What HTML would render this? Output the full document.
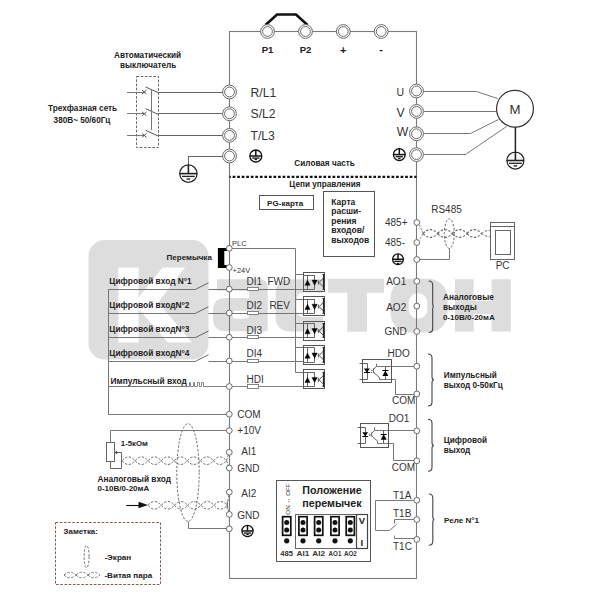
<!DOCTYPE html>
<html><head><meta charset="utf-8"><style>
html,body{margin:0;padding:0;background:#fff;}
svg{display:block;font-family:"Liberation Sans",sans-serif;}
</style></head><body>
<svg width="600" height="600" viewBox="0 0 600 600">
<rect width="600" height="600" fill="#fff"/>
<g fill="#dddddd">
<rect x="88.5" y="240" width="120" height="119.5" rx="16" ry="16"/>
</g>
<g fill="#fff">
<path d="M118.3,267.5 H138.6 V297.5 L162.5,267.5 H185 L158,302.5 L192,342.5 H168 L138.6,309 V342.5 H118.3 Z"/>
</g>
<g fill="#dddddd">
<path d="M217,279.3 H259.7 Q267.7,279.3 267.7,287.3 V331.3 H226 Q213,331.3 213,318.3 V311 Q213,298 226,298 H249 V290.7 H217 Z"/>
<path d="M291,279.3 H323 V292.4 H304.5 Q296.5,292.4 296.5,300.4 V309 Q296.5,317 304.5,317 H323 V331.5 H291 Q275.5,331.5 275.5,316 V294.8 Q275.5,279.3 291,279.3 Z"/>
<path d="M328,278.7 H384 V292.7 H367 V331.8 H347.3 V292.7 H328 Z"/>
<rect x="390.5" y="278.7" width="57" height="53.8" rx="19" ry="19"/>
<path d="M455,279.2 H473.7 V301 H491.6 V279.2 H510.8 V331.6 H491.6 V314 H473.7 V331.6 H455 Z"/>
</g>
<g fill="#fff">
<rect x="232.3" y="310.7" width="16.7" height="7.8" rx="3.5" ry="3.5"/>
<rect x="408.7" y="293.3" width="18.6" height="25.4" rx="9" ry="9"/>
</g>
<rect x="229.5" y="31.5" width="187.0" height="547.0" stroke="#7a7a7a" stroke-width="1.1" fill="none" />
<path d="M265.5,25 L277,14.5 L296,14.5 L307.5,25" stroke="#111" stroke-width="2.6" fill="none" />
<circle cx="267.5" cy="31.5" r="6.9" stroke="#6a6a6a" stroke-width="1.0" fill="#fff" />
<circle cx="267.5" cy="31.5" r="4.9" stroke="#6a6a6a" stroke-width="1.0" fill="none" />
<circle cx="305.5" cy="31.5" r="6.9" stroke="#6a6a6a" stroke-width="1.0" fill="#fff" />
<circle cx="305.5" cy="31.5" r="4.9" stroke="#6a6a6a" stroke-width="1.0" fill="none" />
<circle cx="343.3" cy="31.5" r="6.9" stroke="#6a6a6a" stroke-width="1.0" fill="#fff" />
<circle cx="343.3" cy="31.5" r="4.9" stroke="#6a6a6a" stroke-width="1.0" fill="none" />
<circle cx="381.2" cy="31.5" r="6.9" stroke="#6a6a6a" stroke-width="1.0" fill="#fff" />
<circle cx="381.2" cy="31.5" r="4.9" stroke="#6a6a6a" stroke-width="1.0" fill="none" />
<text x="267.5" y="52.5" font-size="9.6" font-weight="bold" text-anchor="middle" fill="#222" >P1</text>
<text x="305.5" y="52.5" font-size="9.6" font-weight="bold" text-anchor="middle" fill="#222" >P2</text>
<text x="343.3" y="53.5" font-size="11" font-weight="bold" text-anchor="middle" fill="#222" >+</text>
<text x="381.2" y="52.5" font-size="11" font-weight="bold" text-anchor="middle" fill="#222" >-</text>
<rect x="136.5" y="76.5" width="22.0" height="71.0" stroke="#666" stroke-width="1.0" fill="none" stroke-dasharray="2.6,1.6"/>
<line x1="127" y1="92.5" x2="145" y2="92.5" stroke="#777" stroke-width="1" />
<line x1="142" y1="90" x2="146.5" y2="94" stroke="#555" stroke-width="1" />
<line x1="142" y1="94" x2="146.5" y2="90" stroke="#555" stroke-width="1" />
<line x1="145.7" y1="87" x2="158.3" y2="92.7" stroke="#555" stroke-width="1" />
<line x1="158.3" y1="92.5" x2="222.6" y2="92.5" stroke="#666" stroke-width="1" />
<line x1="127" y1="113.5" x2="145" y2="113.5" stroke="#777" stroke-width="1" />
<line x1="142" y1="111.75" x2="146.5" y2="115.75" stroke="#555" stroke-width="1" />
<line x1="142" y1="115.75" x2="146.5" y2="111.75" stroke="#555" stroke-width="1" />
<line x1="145.7" y1="108.75" x2="158.3" y2="114.45" stroke="#555" stroke-width="1" />
<line x1="158.3" y1="113.5" x2="222.6" y2="113.5" stroke="#666" stroke-width="1" />
<line x1="127" y1="135.5" x2="145" y2="135.5" stroke="#777" stroke-width="1" />
<line x1="142" y1="133.4" x2="146.5" y2="137.4" stroke="#555" stroke-width="1" />
<line x1="142" y1="137.4" x2="146.5" y2="133.4" stroke="#555" stroke-width="1" />
<line x1="145.7" y1="130.4" x2="158.3" y2="136.1" stroke="#555" stroke-width="1" />
<line x1="158.3" y1="135.5" x2="222.6" y2="135.5" stroke="#666" stroke-width="1" />
<line x1="151.5" y1="136.1" x2="151.5" y2="135.4" stroke="#777" stroke-width="0" />
<line x1="151.5" y1="89.5" x2="151.5" y2="130" stroke="#777" stroke-width="1" />
<line x1="222.6" y1="156.5" x2="188.4" y2="156.5" stroke="#666" stroke-width="1" />
<line x1="188.5" y1="156" x2="188.5" y2="173.6" stroke="#666" stroke-width="1" />
<circle cx="188.4" cy="173.6" r="8.7" stroke="#222" stroke-width="1.25" fill="#fff" />
<line x1="188.4" y1="164.9" x2="188.4" y2="173.6" stroke="#222" stroke-width="1.6" />
<line x1="179.70000000000002" y1="173.6" x2="197.1" y2="173.6" stroke="#222" stroke-width="1.6" />
<line x1="182.0" y1="176.4" x2="194.8" y2="176.4" stroke="#222" stroke-width="1.3" />
<line x1="186.6" y1="179.0" x2="190.20000000000002" y2="179.0" stroke="#222" stroke-width="1.4" />
<circle cx="229.5" cy="92" r="6.9" stroke="#6a6a6a" stroke-width="1.0" fill="#fff" />
<circle cx="229.5" cy="92" r="4.9" stroke="#6a6a6a" stroke-width="1.0" fill="none" />
<circle cx="229.5" cy="113.75" r="6.9" stroke="#6a6a6a" stroke-width="1.0" fill="#fff" />
<circle cx="229.5" cy="113.75" r="4.9" stroke="#6a6a6a" stroke-width="1.0" fill="none" />
<circle cx="229.5" cy="135.4" r="6.9" stroke="#6a6a6a" stroke-width="1.0" fill="#fff" />
<circle cx="229.5" cy="135.4" r="4.9" stroke="#6a6a6a" stroke-width="1.0" fill="none" />
<circle cx="229.5" cy="156" r="6.9" stroke="#6a6a6a" stroke-width="1.0" fill="#fff" />
<circle cx="229.5" cy="156" r="4.9" stroke="#6a6a6a" stroke-width="1.0" fill="none" />
<text x="250.5" y="96.5" font-size="12.2" font-weight="normal" text-anchor="start" fill="#333" >R/L1</text>
<text x="250.5" y="118.3" font-size="12.2" font-weight="normal" text-anchor="start" fill="#333" >S/L2</text>
<text x="250.5" y="139.8" font-size="12.2" font-weight="normal" text-anchor="start" fill="#333" >T/L3</text>
<circle cx="255.8" cy="156" r="6.0" stroke="#111" stroke-width="1.3" fill="#fff" />
<line x1="255.8" y1="150.0" x2="255.8" y2="156" stroke="#111" stroke-width="1.5" />
<line x1="249.8" y1="156" x2="261.8" y2="156" stroke="#111" stroke-width="1.5" />
<line x1="252.20000000000002" y1="158.1" x2="259.40000000000003" y2="158.1" stroke="#111" stroke-width="1.3" />
<line x1="254.60000000000002" y1="159.5" x2="257.0" y2="159.5" stroke="#111" stroke-width="1.2" />
<text x="147.6" y="58.2" font-size="8.2" font-weight="bold" text-anchor="middle" fill="#222" >Автоматический</text>
<text x="148.2" y="68.3" font-size="8.2" font-weight="bold" text-anchor="middle" fill="#222" >выключатель</text>
<text x="82.6" y="111" font-size="8.2" font-weight="bold" text-anchor="middle" fill="#222" >Трехфазная сеть</text>
<text x="82" y="122.5" font-size="8.2" font-weight="bold" text-anchor="middle" fill="#222" >380В~ 50/60Гц</text>
<path d="M423.5,91.5 H476.5 L497.5,98.5" stroke="#777" stroke-width="1" fill="none" />
<path d="M423.5,111.5 H496.5" stroke="#777" stroke-width="1" fill="none" />
<path d="M423.5,133.5 H470.5 L498.5,119.5" stroke="#777" stroke-width="1" fill="none" />
<path d="M423.5,154.5 H465.5 L506.5,126.5" stroke="#777" stroke-width="1" fill="none" />
<circle cx="515" cy="108.7" r="18.4" stroke="#333" stroke-width="1.2" fill="#fff" />
<text x="515" y="113.8" font-size="13.2" font-weight="normal" text-anchor="middle" fill="#333" >M</text>
<line x1="515.4" y1="127.2" x2="515.4" y2="160.4" stroke="#222" stroke-width="1.5" />
<circle cx="515.4" cy="160.5" r="8.5" stroke="#222" stroke-width="1.25" fill="#fff" />
<line x1="515.4" y1="152.0" x2="515.4" y2="160.5" stroke="#222" stroke-width="1.6" />
<line x1="506.9" y1="160.5" x2="523.9" y2="160.5" stroke="#222" stroke-width="1.6" />
<line x1="509.0" y1="163.3" x2="521.8" y2="163.3" stroke="#222" stroke-width="1.3" />
<line x1="513.6" y1="165.9" x2="517.1999999999999" y2="165.9" stroke="#222" stroke-width="1.4" />
<circle cx="416.5" cy="91" r="6.9" stroke="#6a6a6a" stroke-width="1.0" fill="#fff" />
<circle cx="416.5" cy="91" r="4.9" stroke="#6a6a6a" stroke-width="1.0" fill="none" />
<circle cx="416.5" cy="111.4" r="6.9" stroke="#6a6a6a" stroke-width="1.0" fill="#fff" />
<circle cx="416.5" cy="111.4" r="4.9" stroke="#6a6a6a" stroke-width="1.0" fill="none" />
<circle cx="416.5" cy="133.8" r="6.9" stroke="#6a6a6a" stroke-width="1.0" fill="#fff" />
<circle cx="416.5" cy="133.8" r="4.9" stroke="#6a6a6a" stroke-width="1.0" fill="none" />
<circle cx="416.5" cy="154.6" r="6.9" stroke="#6a6a6a" stroke-width="1.0" fill="#fff" />
<circle cx="416.5" cy="154.6" r="4.9" stroke="#6a6a6a" stroke-width="1.0" fill="none" />
<text x="400.2" y="95.8" font-size="10.5" font-weight="normal" text-anchor="middle" fill="#333" >U</text>
<text x="400.5" y="116.6" font-size="12.2" font-weight="normal" text-anchor="middle" fill="#333" >V</text>
<text x="402.4" y="136.4" font-size="12.2" font-weight="normal" text-anchor="middle" fill="#333" >W</text>
<circle cx="399.3" cy="154.6" r="5.9" stroke="#111" stroke-width="1.3" fill="#fff" />
<line x1="399.3" y1="148.7" x2="399.3" y2="154.6" stroke="#111" stroke-width="1.5" />
<line x1="393.40000000000003" y1="154.6" x2="405.2" y2="154.6" stroke="#111" stroke-width="1.5" />
<line x1="395.7" y1="156.7" x2="402.90000000000003" y2="156.7" stroke="#111" stroke-width="1.3" />
<line x1="398.1" y1="158.5" x2="400.5" y2="158.5" stroke="#111" stroke-width="1.2" />
<line x1="229.5" y1="176.8" x2="416.5" y2="176.8" stroke="#111" stroke-width="2.2" stroke-dasharray="2.7,1.84" stroke-dashoffset="1.4"/>
<text x="324.6" y="166" font-size="8.2" font-weight="bold" text-anchor="middle" fill="#222" >Силовая часть</text>
<text x="325" y="187.2" font-size="8.2" font-weight="bold" text-anchor="middle" fill="#222" >Цепи управления</text>
<rect x="259.5" y="195.5" width="54.0" height="14.0" stroke="#555" stroke-width="1.0" fill="none" />
<text x="285.2" y="205.5" font-size="8.1" font-weight="bold" text-anchor="middle" fill="#222" >PG-карта</text>
<rect x="323.5" y="191.5" width="51.0" height="65.0" stroke="#555" stroke-width="1.0" fill="none" />
<text x="331.3" y="204.5" font-size="8.5" font-weight="bold" text-anchor="start" fill="#222" >Карта</text>
<text x="331.3" y="214.0" font-size="8.5" font-weight="bold" text-anchor="start" fill="#222" >расши-</text>
<text x="331.3" y="223.5" font-size="8.5" font-weight="bold" text-anchor="start" fill="#222" >рения</text>
<text x="331.3" y="233.0" font-size="8.5" font-weight="bold" text-anchor="start" fill="#222" >входов/</text>
<text x="331.3" y="242.5" font-size="8.5" font-weight="bold" text-anchor="start" fill="#222" >выходов</text>
<path d="M423.00,233.5 Q430.32,225.7 437.65,233.5 M437.65,233.5 Q444.97,225.7 452.30,233.5 M452.30,233.5 Q459.62,225.7 466.95,233.5 M466.95,233.5 Q474.27,225.7 481.60,233.5 " stroke="#666" stroke-width="1.1" fill="none" stroke-dasharray="2.4,1.6"/>
<path d="M423.00,233.5 Q430.32,241.3 437.65,233.5 M437.65,233.5 Q444.97,241.3 452.30,233.5 M452.30,233.5 Q459.62,241.3 466.95,233.5 M466.95,233.5 Q474.27,241.3 481.60,233.5 " stroke="#666" stroke-width="1.1" fill="none" stroke-dasharray="2.4,1.6"/>
<path d="M481.6,233.5 Q485,230.4 490,230.4 M481.6,233.5 Q485,236.6 490,236.6" stroke="#6a6a6a" stroke-width="1.0" fill="none" stroke-dasharray="2.4,1.6"/>
<path d="M419.5,225 L423,233.5 L419.5,240" stroke="#777" stroke-width="0.9" fill="none" stroke-dasharray="2,1.3"/>
<ellipse cx="449.3" cy="233.6" rx="5" ry="14.8" fill="none" stroke="#6a6a6a" stroke-width="1" stroke-dasharray="2.4,1.6"/>
<path d="M449.5,248.5 V259.5 H416.5" stroke="#777" stroke-width="1" fill="none" />
<circle cx="416.8" cy="222.5" r="2.9" stroke="#6a6a6a" stroke-width="1.0" fill="#fff" />
<circle cx="416.8" cy="242.5" r="2.9" stroke="#6a6a6a" stroke-width="1.0" fill="#fff" />
<circle cx="416.8" cy="259.5" r="2.9" stroke="#6a6a6a" stroke-width="1.0" fill="#fff" />
<text x="385" y="226.1" font-size="10" font-weight="normal" text-anchor="start" fill="#333" >485+</text>
<text x="385" y="246.1" font-size="10" font-weight="normal" text-anchor="start" fill="#333" >485-</text>
<circle cx="398" cy="259.3" r="5.4" stroke="#111" stroke-width="1.3" fill="#fff" />
<line x1="398" y1="253.9" x2="398" y2="259.3" stroke="#111" stroke-width="1.5" />
<line x1="392.6" y1="259.3" x2="403.4" y2="259.3" stroke="#111" stroke-width="1.5" />
<line x1="394.4" y1="261.40000000000003" x2="401.6" y2="261.40000000000003" stroke="#111" stroke-width="1.3" />
<line x1="396.8" y1="263.5" x2="399.2" y2="263.5" stroke="#111" stroke-width="1.2" />
<text x="431.2" y="213.2" font-size="10" font-weight="normal" text-anchor="start" fill="#333" >RS485</text>
<rect x="490.5" y="222.5" width="24.0" height="37.0" stroke="#666" stroke-width="1.0" fill="#fff" />
<line x1="490.1" y1="226.5" x2="514.8" y2="226.5" stroke="#666" stroke-width="1.0" />
<rect x="495.5" y="230.5" width="15.0" height="24.0" stroke="#666" stroke-width="1.0" fill="none" />
<text x="502.6" y="268.9" font-size="10" font-weight="normal" text-anchor="middle" fill="#333" >PC</text>
<path d="M217.9,248.1 H226.5 L228,249.5 L226.5,251.1 H224.3 V265 H226.5 L228,266.5 L226.5,268 H217.9 Z" fill="#000"/>
<text x="232" y="245.6" font-size="7.5" font-weight="normal" text-anchor="start" fill="#333" >PLC</text>
<text x="232.6" y="273.3" font-size="7.4" font-weight="normal" text-anchor="start" fill="#333" >+24V</text>
<text x="189.2" y="260" font-size="8" font-weight="bold" text-anchor="middle" fill="#222" >Перемычка</text>
<path d="M229.5,248.5 H295.5 V372.5" stroke="#777" stroke-width="1" fill="none" />
<line x1="295.6" y1="274.5" x2="303.3" y2="274.5" stroke="#777" stroke-width="1" />
<rect x="303.5" y="272.5" width="21.0" height="19.0" stroke="#555" stroke-width="1.0" fill="none" />
<line x1="303.3" y1="275.5" x2="314.6" y2="275.5" stroke="#555" stroke-width="0.9" />
<line x1="303.3" y1="289.5" x2="314.6" y2="289.5" stroke="#555" stroke-width="0.9" />
<line x1="307.5" y1="275.0" x2="307.5" y2="289.2" stroke="#555" stroke-width="0.9" />
<line x1="314.5" y1="275.0" x2="314.5" y2="289.2" stroke="#555" stroke-width="0.9" />
<path d="M304.9,285.3 L310.1,285.3 L307.5,280.1 Z" fill="#000" stroke="#000" stroke-width="0.4"/>
<path d="M311.9,280.1 L317.3,280.1 L314.6,285.3 Z" fill="#000" stroke="#000" stroke-width="0.4"/>
<path d="M318.8,280.5 Q317.6,282.5 318.8,284.5" stroke="#333" stroke-width="0.9" fill="none" />
<line x1="319.2" y1="282.5" x2="323.5" y2="278.0" stroke="#444" stroke-width="0.9" />
<line x1="319.2" y1="282.5" x2="323.5" y2="287.0" stroke="#444" stroke-width="0.9" />
<line x1="323.6" y1="274.5" x2="323.6" y2="289.5" stroke="#222" stroke-width="1.4" />
<line x1="322.5" y1="274.5" x2="324.6" y2="274.5" stroke="#222" stroke-width="0.9" />
<line x1="322.5" y1="289.5" x2="324.6" y2="289.5" stroke="#222" stroke-width="0.9" />
<line x1="295.6" y1="299.5" x2="303.3" y2="299.5" stroke="#777" stroke-width="1" />
<rect x="303.5" y="296.5" width="21.0" height="19.0" stroke="#555" stroke-width="1.0" fill="none" />
<line x1="303.3" y1="299.5" x2="314.6" y2="299.5" stroke="#555" stroke-width="0.9" />
<line x1="303.3" y1="313.5" x2="314.6" y2="313.5" stroke="#555" stroke-width="0.9" />
<line x1="307.5" y1="299.1" x2="307.5" y2="313.3" stroke="#555" stroke-width="0.9" />
<line x1="314.5" y1="299.1" x2="314.5" y2="313.3" stroke="#555" stroke-width="0.9" />
<path d="M304.9,309.40000000000003 L310.1,309.40000000000003 L307.5,304.20000000000005 Z" fill="#000" stroke="#000" stroke-width="0.4"/>
<path d="M311.9,304.20000000000005 L317.3,304.20000000000005 L314.6,309.40000000000003 Z" fill="#000" stroke="#000" stroke-width="0.4"/>
<path d="M318.8,304.6 Q317.6,306.6 318.8,308.6" stroke="#333" stroke-width="0.9" fill="none" />
<line x1="319.2" y1="306.6" x2="323.5" y2="302.1" stroke="#444" stroke-width="0.9" />
<line x1="319.2" y1="306.6" x2="323.5" y2="311.1" stroke="#444" stroke-width="0.9" />
<line x1="323.6" y1="298.6" x2="323.6" y2="313.6" stroke="#222" stroke-width="1.4" />
<line x1="322.5" y1="298.5" x2="324.6" y2="298.5" stroke="#222" stroke-width="0.9" />
<line x1="322.5" y1="313.5" x2="324.6" y2="313.5" stroke="#222" stroke-width="0.9" />
<line x1="295.6" y1="323.5" x2="303.3" y2="323.5" stroke="#777" stroke-width="1" />
<rect x="303.5" y="321.5" width="21.0" height="19.0" stroke="#555" stroke-width="1.0" fill="none" />
<line x1="303.3" y1="323.5" x2="314.6" y2="323.5" stroke="#555" stroke-width="0.9" />
<line x1="303.3" y1="337.5" x2="314.6" y2="337.5" stroke="#555" stroke-width="0.9" />
<line x1="307.5" y1="323.5" x2="307.5" y2="337.7" stroke="#555" stroke-width="0.9" />
<line x1="314.5" y1="323.5" x2="314.5" y2="337.7" stroke="#555" stroke-width="0.9" />
<path d="M304.9,333.8 L310.1,333.8 L307.5,328.6 Z" fill="#000" stroke="#000" stroke-width="0.4"/>
<path d="M311.9,328.6 L317.3,328.6 L314.6,333.8 Z" fill="#000" stroke="#000" stroke-width="0.4"/>
<path d="M318.8,329 Q317.6,331 318.8,333" stroke="#333" stroke-width="0.9" fill="none" />
<line x1="319.2" y1="331" x2="323.5" y2="326.5" stroke="#444" stroke-width="0.9" />
<line x1="319.2" y1="331" x2="323.5" y2="335.5" stroke="#444" stroke-width="0.9" />
<line x1="323.6" y1="323" x2="323.6" y2="338" stroke="#222" stroke-width="1.4" />
<line x1="322.5" y1="323.5" x2="324.6" y2="323.5" stroke="#222" stroke-width="0.9" />
<line x1="322.5" y1="337.5" x2="324.6" y2="337.5" stroke="#222" stroke-width="0.9" />
<line x1="295.6" y1="347.5" x2="303.3" y2="347.5" stroke="#777" stroke-width="1" />
<rect x="303.5" y="345.5" width="21.0" height="19.0" stroke="#555" stroke-width="1.0" fill="none" />
<line x1="303.3" y1="347.5" x2="314.6" y2="347.5" stroke="#555" stroke-width="0.9" />
<line x1="303.3" y1="362.5" x2="314.6" y2="362.5" stroke="#555" stroke-width="0.9" />
<line x1="307.5" y1="347.9" x2="307.5" y2="362.09999999999997" stroke="#555" stroke-width="0.9" />
<line x1="314.5" y1="347.9" x2="314.5" y2="362.09999999999997" stroke="#555" stroke-width="0.9" />
<path d="M304.9,358.2 L310.1,358.2 L307.5,353.0 Z" fill="#000" stroke="#000" stroke-width="0.4"/>
<path d="M311.9,353.0 L317.3,353.0 L314.6,358.2 Z" fill="#000" stroke="#000" stroke-width="0.4"/>
<path d="M318.8,353.4 Q317.6,355.4 318.8,357.4" stroke="#333" stroke-width="0.9" fill="none" />
<line x1="319.2" y1="355.4" x2="323.5" y2="350.9" stroke="#444" stroke-width="0.9" />
<line x1="319.2" y1="355.4" x2="323.5" y2="359.9" stroke="#444" stroke-width="0.9" />
<line x1="323.6" y1="347.4" x2="323.6" y2="362.4" stroke="#222" stroke-width="1.4" />
<line x1="322.5" y1="347.5" x2="324.6" y2="347.5" stroke="#222" stroke-width="0.9" />
<line x1="322.5" y1="362.5" x2="324.6" y2="362.5" stroke="#222" stroke-width="0.9" />
<line x1="295.6" y1="372.5" x2="303.3" y2="372.5" stroke="#777" stroke-width="1" />
<rect x="303.5" y="369.5" width="21.0" height="19.0" stroke="#555" stroke-width="1.0" fill="none" />
<line x1="303.3" y1="372.5" x2="314.6" y2="372.5" stroke="#555" stroke-width="0.9" />
<line x1="303.3" y1="386.5" x2="314.6" y2="386.5" stroke="#555" stroke-width="0.9" />
<line x1="307.5" y1="372.3" x2="307.5" y2="386.5" stroke="#555" stroke-width="0.9" />
<line x1="314.5" y1="372.3" x2="314.5" y2="386.5" stroke="#555" stroke-width="0.9" />
<path d="M304.9,382.6 L310.1,382.6 L307.5,377.40000000000003 Z" fill="#000" stroke="#000" stroke-width="0.4"/>
<path d="M311.9,377.40000000000003 L317.3,377.40000000000003 L314.6,382.6 Z" fill="#000" stroke="#000" stroke-width="0.4"/>
<path d="M318.8,377.8 Q317.6,379.8 318.8,381.8" stroke="#333" stroke-width="0.9" fill="none" />
<line x1="319.2" y1="379.8" x2="323.5" y2="375.3" stroke="#444" stroke-width="0.9" />
<line x1="319.2" y1="379.8" x2="323.5" y2="384.3" stroke="#444" stroke-width="0.9" />
<line x1="323.6" y1="371.8" x2="323.6" y2="386.8" stroke="#222" stroke-width="1.4" />
<line x1="322.5" y1="372.5" x2="324.6" y2="372.5" stroke="#222" stroke-width="0.9" />
<line x1="322.5" y1="386.5" x2="324.6" y2="386.5" stroke="#222" stroke-width="0.9" />
<line x1="108.5" y1="289.1" x2="108.5" y2="414.2" stroke="#777" stroke-width="1" />
<line x1="108.2" y1="289.5" x2="196" y2="289.5" stroke="#777" stroke-width="1" />
<line x1="196" y1="289.1" x2="208.5" y2="282.8" stroke="#666" stroke-width="1" />
<line x1="208.5" y1="289.5" x2="303.3" y2="289.5" stroke="#777" stroke-width="1" />
<text x="109.3" y="283.8" font-size="8.35" font-weight="bold" text-anchor="start" fill="#222" >Цифровой вход N°1</text>
<line x1="108.2" y1="313.5" x2="196" y2="313.5" stroke="#777" stroke-width="1" />
<line x1="196" y1="313" x2="208.5" y2="306.7" stroke="#666" stroke-width="1" />
<line x1="208.5" y1="313.5" x2="303.3" y2="313.5" stroke="#777" stroke-width="1" />
<text x="109.3" y="307.7" font-size="8.35" font-weight="bold" text-anchor="start" fill="#222" >Цифровой входN°2</text>
<line x1="108.2" y1="337.5" x2="196" y2="337.5" stroke="#777" stroke-width="1" />
<line x1="196" y1="337.3" x2="208.5" y2="331.0" stroke="#666" stroke-width="1" />
<line x1="208.5" y1="337.5" x2="303.3" y2="337.5" stroke="#777" stroke-width="1" />
<text x="109.3" y="332.0" font-size="8.35" font-weight="bold" text-anchor="start" fill="#222" >Цифровой входN°3</text>
<line x1="108.2" y1="361.5" x2="196" y2="361.5" stroke="#777" stroke-width="1" />
<line x1="196" y1="361" x2="208.5" y2="354.7" stroke="#666" stroke-width="1" />
<line x1="208.5" y1="361.5" x2="303.3" y2="361.5" stroke="#777" stroke-width="1" />
<text x="109.3" y="355.7" font-size="8.35" font-weight="bold" text-anchor="start" fill="#222" >Цифровой входN°4</text>
<line x1="108.2" y1="386.5" x2="187.4" y2="386.5" stroke="#777" stroke-width="1" />
<path d="M187.5,386.5 H189.5 V382.5 H190.5 V386.5 H193.5 V382.5 H194.5 V386.5 H197.5 V382.5 H199.5 V386.5 H201.5 V382.5 H203.5 V386.5 H303.5" stroke="#777" stroke-width="0.9" fill="none" />
<text x="110.5" y="383.8" font-size="8.35" font-weight="bold" text-anchor="start" fill="#222" >Импульсный вход</text>
<rect x="247.5" y="287.5" width="11.0" height="3.0" stroke="#777" stroke-width="0.9" fill="#fff" />
<rect x="247.5" y="311.5" width="11.0" height="3.0" stroke="#777" stroke-width="0.9" fill="#fff" />
<rect x="247.5" y="335.5" width="11.0" height="3.0" stroke="#777" stroke-width="0.9" fill="#fff" />
<rect x="247.5" y="359.5" width="11.0" height="3.0" stroke="#777" stroke-width="0.9" fill="#fff" />
<rect x="247.5" y="384.5" width="11.0" height="4.0" stroke="#777" stroke-width="0.9" fill="#fff" />
<text x="246.6" y="285" font-size="10" font-weight="normal" text-anchor="start" fill="#333" >DI1</text>
<text x="246.6" y="309" font-size="10" font-weight="normal" text-anchor="start" fill="#333" >DI2</text>
<text x="246.6" y="333.5" font-size="10" font-weight="normal" text-anchor="start" fill="#333" >DI3</text>
<text x="246.6" y="357.2" font-size="10" font-weight="normal" text-anchor="start" fill="#333" >DI4</text>
<text x="246.6" y="382.5" font-size="10" font-weight="normal" text-anchor="start" fill="#333" >HDI</text>
<text x="267.4" y="285" font-size="10" font-weight="normal" text-anchor="start" fill="#333" >FWD</text>
<text x="269.4" y="309.2" font-size="10" font-weight="normal" text-anchor="start" fill="#333" >REV</text>
<circle cx="229.3" cy="248.3" r="2.9" stroke="#6a6a6a" stroke-width="1.0" fill="#fff" />
<circle cx="229.3" cy="267.5" r="2.9" stroke="#6a6a6a" stroke-width="1.0" fill="#fff" />
<circle cx="229.3" cy="289.1" r="2.9" stroke="#6a6a6a" stroke-width="1.0" fill="#fff" />
<circle cx="229.3" cy="313" r="2.9" stroke="#6a6a6a" stroke-width="1.0" fill="#fff" />
<circle cx="229.3" cy="337.3" r="2.9" stroke="#6a6a6a" stroke-width="1.0" fill="#fff" />
<circle cx="229.3" cy="361" r="2.9" stroke="#6a6a6a" stroke-width="1.0" fill="#fff" />
<circle cx="229.3" cy="386.5" r="2.9" stroke="#6a6a6a" stroke-width="1.0" fill="#fff" />
<line x1="108.2" y1="414.5" x2="229.3" y2="414.5" stroke="#777" stroke-width="1" />
<path d="M229.5,430.5 H110.5 V442.5" stroke="#777" stroke-width="1" fill="none" />
<rect x="106.5" y="442.5" width="8.0" height="19.0" stroke="#666" stroke-width="1.0" fill="#fff" />
<path d="M110.5,461.5 V468.5 H121.5 V452.5 H115.5" stroke="#666" stroke-width="1" fill="none" />
<path d="M114.2,452.5 L117.2,450.8 L117.2,454.2 Z" fill="#444"/>
<text x="120.8" y="446.2" font-size="7.8" font-weight="bold" text-anchor="start" fill="#222" >1-5кОм</text>
<path d="M122.00,460.7 Q128.53,453.09999999999997 135.05,460.7 M135.05,460.7 Q141.58,453.09999999999997 148.10,460.7 M148.10,460.7 Q154.63,453.09999999999997 161.15,460.7 M161.15,460.7 Q167.68,453.09999999999997 174.20,460.7 M174.20,460.7 Q180.73,453.09999999999997 187.25,460.7 M187.25,460.7 Q193.78,453.09999999999997 200.30,460.7 M200.30,460.7 Q206.83,453.09999999999997 213.35,460.7 M213.35,460.7 Q219.88,453.09999999999997 226.40,460.7 " stroke="#6a6a6a" stroke-width="1.0" fill="none" stroke-dasharray="2.4,1.6"/>
<path d="M122.00,460.7 Q128.53,468.3 135.05,460.7 M135.05,460.7 Q141.58,468.3 148.10,460.7 M148.10,460.7 Q154.63,468.3 161.15,460.7 M161.15,460.7 Q167.68,468.3 174.20,460.7 M174.20,460.7 Q180.73,468.3 187.25,460.7 M187.25,460.7 Q193.78,468.3 200.30,460.7 M200.30,460.7 Q206.83,468.3 213.35,460.7 M213.35,460.7 Q219.88,468.3 226.40,460.7 " stroke="#6a6a6a" stroke-width="1.0" fill="none" stroke-dasharray="2.4,1.6"/>
<path d="M226.5,460.7 L229.3,452.3 M226.5,460.7 L229.3,468" stroke="#6a6a6a" stroke-width="1.0" fill="none" stroke-dasharray="2.4,1.6"/>
<path d="M148.00,505.3 Q154.60,497.7 161.20,505.3 M161.20,505.3 Q167.80,497.7 174.40,505.3 M174.40,505.3 Q181.00,497.7 187.60,505.3 M187.60,505.3 Q194.20,497.7 200.80,505.3 M200.80,505.3 Q207.40,497.7 214.00,505.3 M214.00,505.3 Q220.60,497.7 227.20,505.3 M227.20,505.3 Q227.25,497.7 227.30,505.3 " stroke="#6a6a6a" stroke-width="1.0" fill="none" stroke-dasharray="2.4,1.6"/>
<path d="M148.00,505.3 Q154.60,512.9 161.20,505.3 M161.20,505.3 Q167.80,512.9 174.40,505.3 M174.40,505.3 Q181.00,512.9 187.60,505.3 M187.60,505.3 Q194.20,512.9 200.80,505.3 M200.80,505.3 Q207.40,512.9 214.00,505.3 M214.00,505.3 Q220.60,512.9 227.20,505.3 M227.20,505.3 Q227.25,512.9 227.30,505.3 " stroke="#6a6a6a" stroke-width="1.0" fill="none" stroke-dasharray="2.4,1.6"/>
<path d="M227.3,505.3 L229.3,492.1 M227.3,505.3 L229.3,514.4" stroke="#6a6a6a" stroke-width="1.0" fill="none" stroke-dasharray="2.4,1.6"/>
<line x1="126.2" y1="505.5" x2="140" y2="505.5" stroke="#111" stroke-width="1.1" />
<path d="M138.5,501.8 L148,505 L138.5,508.2 Z" fill="#111"/>
<ellipse cx="188" cy="472.5" rx="11.2" ry="48.8" fill="none" stroke="#6a6a6a" stroke-width="1" stroke-dasharray="2.4,1.6"/>
<path d="M188.5,521.5 V528.5 H229.5" stroke="#777" stroke-width="1" fill="none" />
<text x="97.5" y="481.8" font-size="8.3" font-weight="bold" text-anchor="start" fill="#222" >Аналоговый вход</text>
<text x="97.5" y="491" font-size="8.0" font-weight="bold" text-anchor="start" fill="#222" >0-10В/0-20мА</text>
<circle cx="229.3" cy="414.2" r="2.9" stroke="#6a6a6a" stroke-width="1.0" fill="#fff" />
<circle cx="229.3" cy="430.6" r="2.9" stroke="#6a6a6a" stroke-width="1.0" fill="#fff" />
<circle cx="229.3" cy="452.3" r="2.9" stroke="#6a6a6a" stroke-width="1.0" fill="#fff" />
<circle cx="229.3" cy="468" r="2.9" stroke="#6a6a6a" stroke-width="1.0" fill="#fff" />
<circle cx="229.3" cy="492.1" r="2.9" stroke="#6a6a6a" stroke-width="1.0" fill="#fff" />
<circle cx="229.3" cy="514.4" r="2.9" stroke="#6a6a6a" stroke-width="1.0" fill="#fff" />
<circle cx="229.3" cy="528.8" r="2.9" stroke="#6a6a6a" stroke-width="1.0" fill="#fff" />
<text x="237.3" y="417.7" font-size="10" font-weight="normal" text-anchor="start" fill="#333" >COM</text>
<text x="237.3" y="434.4" font-size="10" font-weight="normal" text-anchor="start" fill="#333" >+10V</text>
<text x="241.3" y="455.4" font-size="10" font-weight="normal" text-anchor="start" fill="#333" >AI1</text>
<text x="237.3" y="471.8" font-size="10" font-weight="normal" text-anchor="start" fill="#333" >GND</text>
<text x="241.3" y="496.5" font-size="10" font-weight="normal" text-anchor="start" fill="#333" >AI2</text>
<text x="237.3" y="518.5" font-size="10" font-weight="normal" text-anchor="start" fill="#333" >GND</text>
<circle cx="247.5" cy="531" r="5.6" stroke="#111" stroke-width="1.3" fill="#fff" />
<line x1="247.5" y1="525.4" x2="247.5" y2="531" stroke="#111" stroke-width="1.5" />
<line x1="241.9" y1="531" x2="253.1" y2="531" stroke="#111" stroke-width="1.5" />
<line x1="243.9" y1="533.1" x2="251.1" y2="533.1" stroke="#111" stroke-width="1.3" />
<line x1="246.3" y1="534.5" x2="248.7" y2="534.5" stroke="#111" stroke-width="1.2" />
<rect x="55.5" y="522.5" width="105.0" height="62.0" stroke="#7a6050" stroke-width="1.0" fill="none" stroke-dasharray="2.6,1.6"/>
<text x="63.6" y="534.4" font-size="7.9" font-weight="bold" text-anchor="start" fill="#222" >Заметка:</text>
<ellipse cx="86.6" cy="556.6" rx="2.5" ry="11" fill="none" stroke="#6a6a6a" stroke-width="1" stroke-dasharray="2.4,1.6"/>
<text x="104.4" y="559.6" font-size="8.1" font-weight="bold" text-anchor="start" fill="#222" >-Экран</text>
<path d="M64.00,575 Q70.00,569.4 76.00,575 M76.00,575 Q82.00,569.4 88.00,575 M88.00,575 Q94.00,569.4 100.00,575 " stroke="#777" stroke-width="1.0" fill="none" stroke-dasharray="2.4,1.6"/>
<path d="M64.00,575 Q70.00,580.6 76.00,575 M76.00,575 Q82.00,580.6 88.00,575 M88.00,575 Q94.00,580.6 100.00,575 " stroke="#777" stroke-width="1.0" fill="none" stroke-dasharray="2.4,1.6"/>
<text x="104.4" y="578" font-size="8.1" font-weight="bold" text-anchor="start" fill="#222" >-Витая пара</text>
<circle cx="416.8" cy="281.3" r="2.9" stroke="#6a6a6a" stroke-width="1.0" fill="#fff" />
<circle cx="416.8" cy="306.1" r="2.9" stroke="#6a6a6a" stroke-width="1.0" fill="#fff" />
<circle cx="416.8" cy="331.5" r="2.9" stroke="#6a6a6a" stroke-width="1.0" fill="#fff" />
<text x="386.2" y="284.8" font-size="10" font-weight="normal" text-anchor="start" fill="#333" >AO1</text>
<text x="386.2" y="310.8" font-size="10" font-weight="normal" text-anchor="start" fill="#333" >AO2</text>
<text x="384.5" y="334.8" font-size="10" font-weight="normal" text-anchor="start" fill="#333" >GND</text>
<path d="M428.7,281 Q432.7,281 432.7,285 L432.7,303.3 Q432.7,306.3 433.8,306.3 Q432.7,306.3 432.7,309.3 L432.7,328.5 Q432.7,332.5 428.7,332.5" stroke="#444" stroke-width="1.1" fill="none" />
<text x="443" y="300" font-size="8.25" font-weight="bold" text-anchor="start" fill="#222" >Аналоговые</text>
<text x="443" y="310" font-size="8.25" font-weight="bold" text-anchor="start" fill="#222" >выходы</text>
<text x="443" y="319.8" font-size="8.0" font-weight="bold" text-anchor="start" fill="#222" >0-10В/0-20мА</text>
<path d="M416.5,366.5 H376.5" stroke="#777" stroke-width="1" fill="none" />
<path d="M379.5,379.5 H395.5 V394.5 H416.5" stroke="#777" stroke-width="1" fill="none" />
<rect x="362.5" y="359.5" width="29.0" height="23.0" stroke="#555" stroke-width="1.0" fill="none" />
<path d="M359.5,363.5 H367.5 V379.5 H359.5" stroke="#555" stroke-width="0.9" fill="none" />
<path d="M364,368.4 L369.8,368.4 L366.9,372.7 Z" fill="#000"/>
<line x1="364" y1="372.5" x2="369.8" y2="372.5" stroke="#000" stroke-width="1.0" />
<line x1="370.6" y1="370.0" x2="372.2" y2="370.8" stroke="#555" stroke-width="0.8" />
<line x1="370.6" y1="372.5" x2="372.2" y2="372.5" stroke="#555" stroke-width="0.8" />
<path d="M373.8,368.3 Q372.6,370.7 373.8,373.1" stroke="#333" stroke-width="0.9" fill="none" />
<line x1="374" y1="369.0" x2="376.3" y2="366.4" stroke="#555" stroke-width="0.9" />
<line x1="376.5" y1="363.8" x2="376.5" y2="366.2" stroke="#555" stroke-width="0.9" />
<line x1="374" y1="372.7" x2="379.4" y2="377.5" stroke="#555" stroke-width="0.9" />
<line x1="379.5" y1="377.5" x2="379.5" y2="379.3" stroke="#555" stroke-width="0.9" />
<line x1="385.5" y1="366.2" x2="385.5" y2="379.3" stroke="#555" stroke-width="0.9" />
<path d="M382.4,375.9 L388.4,375.9 L385.4,370.5 Z" fill="#000"/>
<line x1="382.4" y1="370.5" x2="388.4" y2="370.5" stroke="#000" stroke-width="1.0" />
<circle cx="416.8" cy="366.2" r="2.9" stroke="#6a6a6a" stroke-width="1.0" fill="#fff" />
<circle cx="416.8" cy="394" r="2.9" stroke="#6a6a6a" stroke-width="1.0" fill="#fff" />
<text x="387.5" y="356.6" font-size="10" font-weight="normal" text-anchor="start" fill="#333" >HDO</text>
<text x="392" y="403.7" font-size="10" font-weight="normal" text-anchor="start" fill="#333" >COM</text>
<path d="M428,354 Q432,354 432,358 L432,376.7 Q432,379.7 434,379.7 Q432,379.7 432,382.7 L432,402 Q432,406 428,406" stroke="#444" stroke-width="1.1" fill="none" />
<text x="443.8" y="377.9" font-size="8.2" font-weight="bold" text-anchor="start" fill="#222" >Импульсный</text>
<text x="443.8" y="387.6" font-size="8.2" font-weight="bold" text-anchor="start" fill="#222" >выход 0-50кГц</text>
<path d="M416.5,430.5 H374.5" stroke="#777" stroke-width="1" fill="none" />
<path d="M377.5,443.5 H393.5 V460.5 H416.5" stroke="#777" stroke-width="1" fill="none" />
<rect x="360.5" y="423.5" width="28.0" height="24.0" stroke="#555" stroke-width="1.0" fill="none" />
<path d="M357.5,427.5 H365.5 V443.5 H357.5" stroke="#555" stroke-width="0.9" fill="none" />
<path d="M362.3,432.2 L368.1,432.2 L365.2,436.5 Z" fill="#000"/>
<line x1="362.3" y1="436.5" x2="368.1" y2="436.5" stroke="#000" stroke-width="1.0" />
<line x1="368.90000000000003" y1="433.8" x2="370.5" y2="434.6" stroke="#555" stroke-width="0.8" />
<line x1="368.90000000000003" y1="435.5" x2="370.5" y2="435.5" stroke="#555" stroke-width="0.8" />
<path d="M372.1,432.1 Q370.90000000000003,434.5 372.1,436.90000000000003" stroke="#333" stroke-width="0.9" fill="none" />
<line x1="372.3" y1="432.8" x2="374.6" y2="430.5" stroke="#555" stroke-width="0.9" />
<line x1="374.5" y1="427.6" x2="374.5" y2="430.3" stroke="#555" stroke-width="0.9" />
<line x1="372.3" y1="436.5" x2="377.7" y2="441.2" stroke="#555" stroke-width="0.9" />
<line x1="377.5" y1="441.2" x2="377.5" y2="443.0" stroke="#555" stroke-width="0.9" />
<line x1="383.5" y1="430.3" x2="383.5" y2="443.0" stroke="#555" stroke-width="0.9" />
<path d="M380.7,439.7 L386.7,439.7 L383.7,434.3 Z" fill="#000"/>
<line x1="380.7" y1="434.5" x2="386.7" y2="434.5" stroke="#000" stroke-width="1.0" />
<circle cx="416.8" cy="430.8" r="2.9" stroke="#6a6a6a" stroke-width="1.0" fill="#fff" />
<circle cx="416.8" cy="460.8" r="2.9" stroke="#6a6a6a" stroke-width="1.0" fill="#fff" />
<text x="388.7" y="422.3" font-size="10" font-weight="normal" text-anchor="start" fill="#333" >DO1</text>
<text x="391.7" y="470.6" font-size="10" font-weight="normal" text-anchor="start" fill="#333" >COM</text>
<path d="M428,419.3 Q432,419.3 432,423.3 L432,442.5 Q432,445.5 434,445.5 Q432,445.5 432,448.5 L432,467.2 Q432,471.2 428,471.2" stroke="#444" stroke-width="1.1" fill="none" />
<text x="443.8" y="442.8" font-size="8.2" font-weight="bold" text-anchor="start" fill="#222" >Цифровой</text>
<text x="443.8" y="453" font-size="8.2" font-weight="bold" text-anchor="start" fill="#222" >выход</text>
<path d="M416.5,500.5 H375.5 V530.5 H389.5 L396.5,524.5" stroke="#777" stroke-width="1" fill="none" />
<path d="M416.5,519.5 H394.5 V523.5" stroke="#777" stroke-width="1" fill="none" />
<path d="M394.5,535.5 V538.5 H416.5" stroke="#777" stroke-width="1" fill="none" />
<circle cx="416.8" cy="500.3" r="2.9" stroke="#6a6a6a" stroke-width="1.0" fill="#fff" />
<circle cx="416.8" cy="519.5" r="2.9" stroke="#6a6a6a" stroke-width="1.0" fill="#fff" />
<circle cx="416.8" cy="539.4" r="2.9" stroke="#6a6a6a" stroke-width="1.0" fill="#fff" />
<text x="393" y="498.5" font-size="10" font-weight="normal" text-anchor="start" fill="#333" >T1A</text>
<text x="393" y="517.4" font-size="10" font-weight="normal" text-anchor="start" fill="#333" >T1B</text>
<text x="393" y="550.3" font-size="10" font-weight="normal" text-anchor="start" fill="#333" >T1C</text>
<path d="M428.8,494 Q432.8,494 432.8,498 L432.8,516.5 Q432.8,519.5 434.3,519.5 Q432.8,519.5 432.8,522.5 L432.8,541.2 Q432.8,545.2 428.8,545.2" stroke="#444" stroke-width="1.1" fill="none" />
<text x="444" y="523" font-size="8.1" font-weight="bold" text-anchor="start" fill="#222" >Реле N°1</text>
<rect x="276.5" y="480.5" width="94.0" height="81.0" stroke="#555" stroke-width="1.0" fill="#fff" />
<rect x="295.5" y="514.5" width="72.0" height="34.0" stroke="#666" stroke-width="1.0" fill="none" />
<rect x="356.5" y="514.5" width="11.0" height="34.0" stroke="#444" stroke-width="1.2" fill="none" />
<text x="361.9" y="524.3" font-size="9.5" font-weight="bold" text-anchor="middle" fill="#222" >V</text>
<text x="361.9" y="546" font-size="9.5" font-weight="bold" text-anchor="middle" fill="#222" >I</text>
<text x="332" y="494" font-size="10.7" font-weight="bold" text-anchor="middle" fill="#222" >Положение</text>
<text x="332" y="506.6" font-size="10.7" font-weight="bold" text-anchor="middle" fill="#222" >перемычек</text>
<text x="0" y="0" font-size="6.2" font-weight="normal" text-anchor="middle" fill="#333" transform="translate(289.7,499) rotate(-90)">ON ↔ OFF</text>
<rect x="282.59999999999997" y="516.7" width="8.2" height="18.6" stroke="#111" stroke-width="1.7" fill="none" />
<circle cx="286.7" cy="522.5" r="2.5" stroke="none" stroke-width="0" fill="#111" />
<circle cx="286.7" cy="530" r="2.5" stroke="none" stroke-width="0" fill="#111" />
<circle cx="286.7" cy="540.8" r="2.6" stroke="none" stroke-width="0" fill="#111" />
<rect x="298.9" y="516.7" width="8.2" height="18.6" stroke="#111" stroke-width="1.7" fill="none" />
<circle cx="303" cy="522.5" r="2.5" stroke="none" stroke-width="0" fill="#111" />
<circle cx="303" cy="530" r="2.5" stroke="none" stroke-width="0" fill="#111" />
<circle cx="303" cy="540.8" r="2.6" stroke="none" stroke-width="0" fill="#111" />
<rect x="314.59999999999997" y="516.7" width="8.2" height="18.6" stroke="#111" stroke-width="1.7" fill="none" />
<circle cx="318.7" cy="522.5" r="2.5" stroke="none" stroke-width="0" fill="#111" />
<circle cx="318.7" cy="530" r="2.5" stroke="none" stroke-width="0" fill="#111" />
<circle cx="318.7" cy="540.8" r="2.6" stroke="none" stroke-width="0" fill="#111" />
<rect x="330.9" y="516.7" width="8.2" height="18.6" stroke="#111" stroke-width="1.7" fill="none" />
<circle cx="335" cy="522.5" r="2.5" stroke="none" stroke-width="0" fill="#111" />
<circle cx="335" cy="530" r="2.5" stroke="none" stroke-width="0" fill="#111" />
<circle cx="335" cy="540.8" r="2.6" stroke="none" stroke-width="0" fill="#111" />
<rect x="346.2" y="516.7" width="8.2" height="18.6" stroke="#111" stroke-width="1.7" fill="none" />
<circle cx="350.3" cy="522.5" r="2.5" stroke="none" stroke-width="0" fill="#111" />
<circle cx="350.3" cy="530" r="2.5" stroke="none" stroke-width="0" fill="#111" />
<circle cx="350.3" cy="540.8" r="2.6" stroke="none" stroke-width="0" fill="#111" />
<text x="286.7" y="556.3" font-size="7.2" font-weight="bold" text-anchor="middle" fill="#333" textLength="12.8" lengthAdjust="spacingAndGlyphs">485</text>
<text x="303" y="556.3" font-size="7.2" font-weight="bold" text-anchor="middle" fill="#333" textLength="12.8" lengthAdjust="spacingAndGlyphs">AI1</text>
<text x="318.7" y="556.3" font-size="7.2" font-weight="bold" text-anchor="middle" fill="#333" textLength="12.8" lengthAdjust="spacingAndGlyphs">AI2</text>
<text x="335" y="556.3" font-size="7.2" font-weight="bold" text-anchor="middle" fill="#333" textLength="12.8" lengthAdjust="spacingAndGlyphs">AO1</text>
<text x="350.3" y="556.3" font-size="7.2" font-weight="bold" text-anchor="middle" fill="#333" textLength="12.8" lengthAdjust="spacingAndGlyphs">AO2</text>
</svg></body></html>
